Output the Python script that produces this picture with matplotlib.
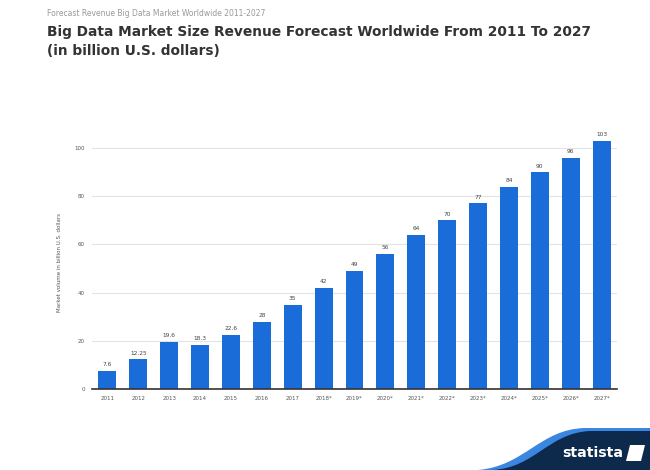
import matplotlib
matplotlib.use("Agg")
import matplotlib.pyplot as plt
from matplotlib.path import Path
from matplotlib.patches import PathPatch, Polygon

years = ["2011", "2012", "2013", "2014", "2015", "2016", "2017", "2018*", "2019*",
         "2020*", "2021*", "2022*", "2023*", "2024*", "2025*", "2026*", "2027*"]
values = [7.6, 12.25, 19.6, 18.3, 22.6, 28, 35, 42, 49, 56, 64, 70, 77, 84, 90, 96, 103]
value_labels = ["7.6", "12.25", "19.6", "18.3", "22.6", "28", "35", "42", "49", "56",
                "64", "70", "77", "84", "90", "96", "103"]
yticks = [0, 20, 40, 60, 80, 100]

W, H = 650, 470
fig = plt.figure(figsize=(6.5, 4.7), dpi=100)
fig.patch.set_facecolor("white")

ax = fig.add_axes([92 / W, 81 / H, 525 / W, (389 - 136) / H])
x = range(len(years))
ax.bar(x, values, width=0.58, color="#1a6dd8", zorder=3)
ax.set_xlim(-0.5, len(years) - 0.5)
ax.set_ylim(0, 105)
ax.set_yticks(yticks)
ax.set_yticklabels([str(t) for t in yticks], fontsize=4, color="#555555")
ax.set_xticks(list(x))
ax.set_xticklabels(years, fontsize=4, color="#555555")
ax.tick_params(axis="both", length=0, pad=5)
for s in ["top", "right", "left"]:
    ax.spines[s].set_visible(False)
ax.spines["bottom"].set_color("#333333")
ax.spines["bottom"].set_linewidth(1.2)
ax.spines["bottom"].set_zorder(4)
ax.yaxis.grid(True, color="#e3e3e3", linewidth=0.8, zorder=0)
ax.set_axisbelow(True)
ax.set_ylabel("Market volume in billion U.S. dollars", fontsize=4, color="#555555", labelpad=9)

for xi, v, lab in zip(x, values, value_labels):
    ax.text(xi, v + 1.5, lab, ha="center", va="bottom", fontsize=4.2, color="#444444")

# titles
fig.text(47 / W, 1 - 13 / H, "Forecast Revenue Big Data Market Worldwide 2011-2027",
         fontsize=5.5, color="#999999", va="center", ha="left")
fig.text(47 / W, 1 - 32 / H, "Big Data Market Size Revenue Forecast Worldwide From 2011 To 2027",
         fontsize=9.95, color="#333333", fontweight="bold", va="center", ha="left")
fig.text(47 / W, 1 - 51 / H, "(in billion U.S. dollars)",
         fontsize=9.95, color="#333333", fontweight="bold", va="center", ha="left")

# statista footer
def fc(px, py):
    return (px / W, 1 - py / H)

codes = [Path.MOVETO, Path.CURVE4, Path.CURVE4, Path.CURVE4, Path.LINETO, Path.LINETO, Path.CLOSEPOLY]
stripe_verts = [fc(478, 470), fc(525, 466), fc(540, 429), fc(585, 428), fc(650, 428), fc(650, 470), fc(478, 470)]
verts = [fc(492, 470), fc(535, 468), fc(548, 433), fc(590, 431), fc(650, 431), fc(650, 470), fc(492, 470)]
fig.patches.append(PathPatch(Path(stripe_verts, codes), facecolor="#3a86e0",
                             edgecolor="none", transform=fig.transFigure))
fig.patches.append(PathPatch(Path(verts, codes), facecolor="#0d2a4d",
                             edgecolor="none", transform=fig.transFigure))
fig.text(562 / W, 1 - 453 / H, "statista", fontsize=10.2, color="white",
         fontweight="bold", va="center", ha="left")
fig.patches.append(Polygon([fc(626, 461), fc(630, 445), fc(645, 445), fc(641, 461)],
                           closed=True, facecolor="white", edgecolor="none",
                           transform=fig.transFigure))

fig.savefig("out.png", dpi=100)
